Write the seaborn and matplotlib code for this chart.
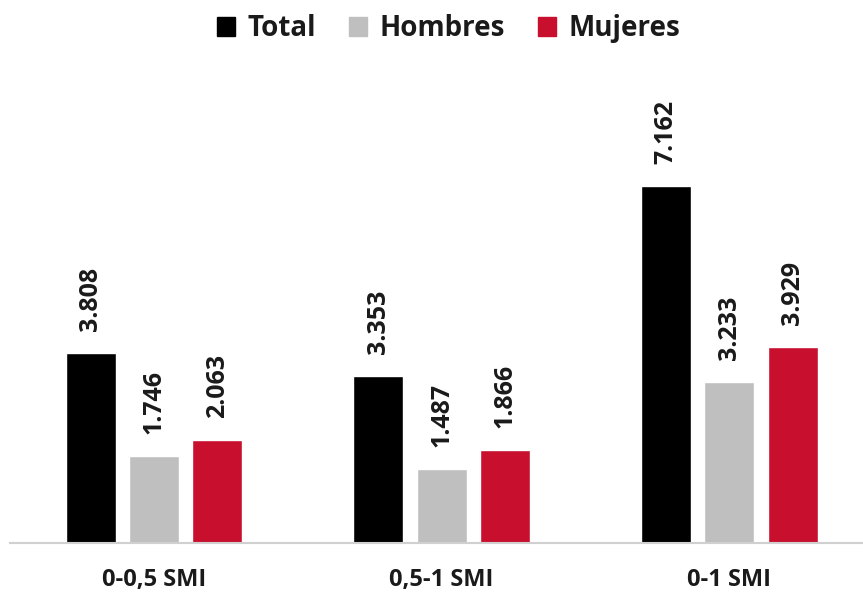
import matplotlib
matplotlib.use("Agg")
import matplotlib.pyplot as plt
import seaborn as sns
import pandas as pd

# Salary bands (SMI) and counts per group
categories = ["0-0,5 SMI", "0,5-1 SMI", "0-1 SMI"]
series = ["Total", "Hombres", "Mujeres"]
total = [3.808, 3.353, 7.162]
hombres = [1.746, 1.487, 3.233]
mujeres = [2.063, 1.866, 3.929]
colors = ["#000000", "#BFBFBF", "#C8102E"]

rows = []
for name, vals in zip(series, [total, hombres, mujeres]):
    for cat, v in zip(categories, vals):
        rows.append({"cat": cat, "serie": name, "valor": v})
df = pd.DataFrame(rows)

sns.set_theme(style="white")
plt.rcParams["font.family"] = ["Open Sans", "DejaVu Sans"]

fig = plt.figure(figsize=(8.63, 5.94), dpi=100)
ax = fig.add_axes([10 / 863, 51 / 594, 853 / 863, 420 / 594])

sns.barplot(data=df, x="cat", y="valor", hue="serie", hue_order=series,
            order=categories, palette=colors, width=0.66, gap=0.21,
            saturation=1, ax=ax, legend=False)

for cont in ax.containers:
    ax.bar_label(cont, labels=[f"{v:.3f}" for v in cont.datavalues],
                 rotation=90, padding=16, fontsize=18, fontweight="bold",
                 color="#1a1a1a")

ax.set_xlim(-0.5, -0.5 + 853 / 287.75)
ax.set_ylim(0, 420 / 49.85)
ax.set_xlabel("")
ax.set_ylabel("")
ax.set_yticks([])
ax.tick_params(axis="x", length=0, pad=18)
for lbl in ax.get_xticklabels():
    lbl.set_fontsize(17)
    lbl.set_fontweight("bold")
    lbl.set_color("#1a1a1a")

for side in ["top", "right", "left"]:
    ax.spines[side].set_visible(False)
ax.spines["bottom"].set_color("#D0D0D0")
ax.spines["bottom"].set_linewidth(1.5)

handles = [plt.Rectangle((0, 0), 1, 1, color=c) for c in colors]
fig.legend(handles, series, loc="center", bbox_to_anchor=(0.52, 0.952),
           ncol=3, frameon=False, handlelength=0.65, handleheight=0.65,
           handletextpad=0.45, columnspacing=1.2,
           prop={"size": 20, "weight": "bold"}, labelcolor="#1a1a1a")

fig.savefig("out.png", dpi=100)
